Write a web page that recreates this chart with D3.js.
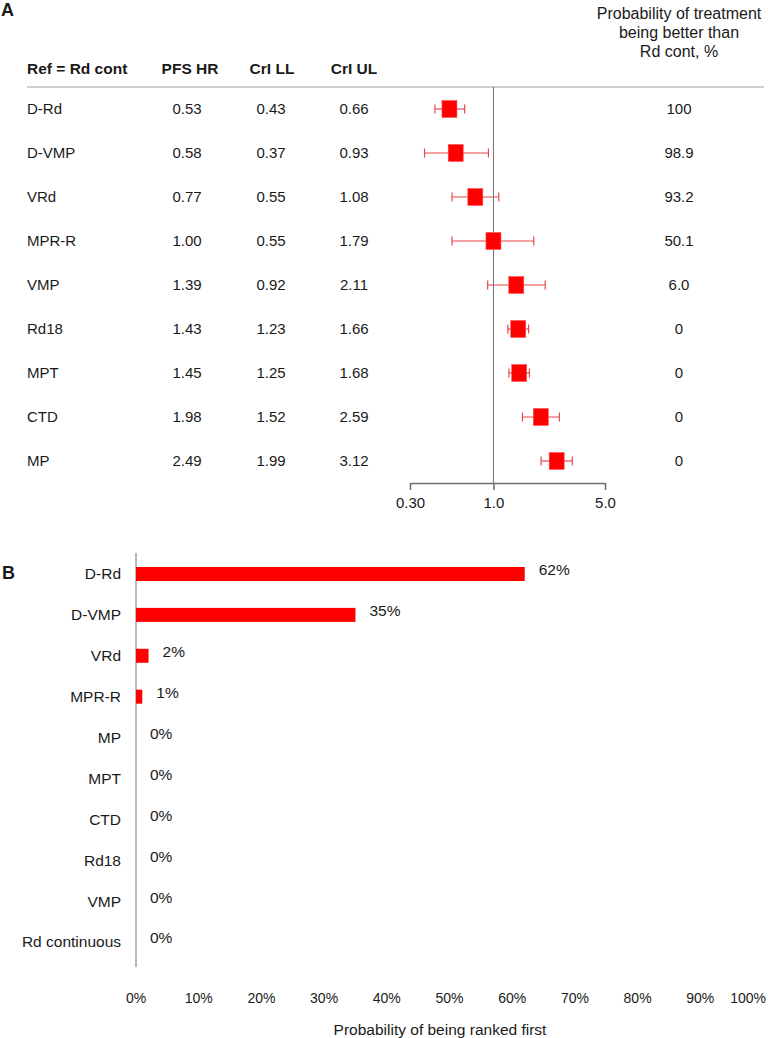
<!DOCTYPE html>
<html>
<head>
<meta charset="utf-8">
<script src="https://cdn.jsdelivr.net/npm/d3@7"></script>
<style>
  body { margin: 0; background: #fff; }
  svg text { font-family: "Liberation Sans", Arial, sans-serif; fill: #1a1a1a; }
</style>
</head>
<body>
<div id="chart"></div>
<script>
// panel A data
const treatments = ["D-Rd", "D-VMP", "VRd", "MPR-R", "VMP", "Rd18", "MPT", "CTD", "MP"]
const hr = [0.53, 0.58, 0.77, 1.00, 1.39, 1.43, 1.45, 1.98, 2.49]
const crl_ll = [0.43, 0.37, 0.55, 0.55, 0.92, 1.23, 1.25, 1.52, 1.99]
const crl_ul = [0.66, 0.93, 1.08, 1.79, 2.11, 1.66, 1.68, 2.59, 3.12]
const prob_better = ["100", "98.9", "93.2", "50.1", "6.0", "0", "0", "0", "0"]
const hr_ticks = [0.30, 1.0, 5.0]
const hr_tick_labels = ["0.30", "1.0", "5.0"]

// panel B data
const rank_categories = ["D-Rd", "D-VMP", "VRd", "MPR-R", "MP", "MPT", "CTD", "Rd18", "VMP", "Rd continuous"]
const rank_first = [62, 35, 2, 1, 0, 0, 0, 0, 0, 0]
const pct_ticks = [0, 10, 20, 30, 40, 50, 60, 70, 80, 90, 100]

const W = 768, H = 1038
const red = "#ff0000", err_red = "#e8474b", grey = "#8a8a8a"
const fs = "15px"

let svg = d3.select("#chart").append("svg")
    .attr("width", W)
    .attr("height", H)

// ---------- Panel A ----------
svg.append("text").text("A")
    .attr("x", 1).attr("y", 16)
    .style("font-size", "18px").style("font-weight", "bold")

const col = {name: 27, hr: 187, ll: 271, ul: 354, prob: 679}

const header_y = 74
svg.append("text").text("Ref = Rd cont")
    .attr("x", col.name).attr("y", header_y)
    .style("font-size", "15.5px").style("font-weight", "bold")
const heads = [["PFS HR", col.hr + 3], ["CrI LL", col.ll + 1], ["CrI UL", col.ul]]
heads.forEach(h => {
    svg.append("text").text(h[0])
        .attr("x", h[1]).attr("y", header_y)
        .attr("text-anchor", "middle")
        .style("font-size", "15.5px").style("font-weight", "bold")
})
const prob_head = ["Probability of treatment", "being better than", "Rd cont, %"]
prob_head.forEach((t, i) => {
    svg.append("text").text(t)
        .attr("x", col.prob).attr("y", 19 + i * 19)
        .attr("text-anchor", "middle")
        .style("font-size", "16px")
})

svg.append("line")
    .attr("x1", col.name).attr("x2", 764)
    .attr("y1", 87).attr("y2", 87)
    .attr("stroke", "#a0a0a0").attr("stroke-width", 1.2)

const yA = d3.scalePoint().domain(treatments).range([109, 461])
const xA = d3.scaleLog().domain([0.3, 5]).range([410, 605])
const axisA_y = 483

// reference line at HR = 1
svg.append("line")
    .attr("x1", xA(1)).attr("x2", xA(1))
    .attr("y1", 87).attr("y2", axisA_y)
    .attr("stroke", "#707070").attr("stroke-width", 1)

let rowsA = svg.append("g")
treatments.forEach((t, i) => {
    const y = yA(t)
    rowsA.append("text").text(t).attr("x", col.name).attr("y", y).attr("dy", "0.35em").style("font-size", fs)
    rowsA.append("text").text(hr[i].toFixed(2)).attr("x", col.hr).attr("y", y).attr("dy", "0.35em")
        .attr("text-anchor", "middle").style("font-size", fs)
    rowsA.append("text").text(crl_ll[i].toFixed(2)).attr("x", col.ll).attr("y", y).attr("dy", "0.35em")
        .attr("text-anchor", "middle").style("font-size", fs)
    rowsA.append("text").text(crl_ul[i].toFixed(2)).attr("x", col.ul).attr("y", y).attr("dy", "0.35em")
        .attr("text-anchor", "middle").style("font-size", fs)
    rowsA.append("text").text(prob_better[i]).attr("x", col.prob).attr("y", y).attr("dy", "0.35em")
        .attr("text-anchor", "middle").style("font-size", fs)

    // error bar
    rowsA.append("line")
        .attr("x1", xA(crl_ll[i])).attr("x2", xA(crl_ul[i]))
        .attr("y1", y).attr("y2", y)
        .attr("stroke", err_red).attr("stroke-width", 1.2)
    ;[crl_ll[i], crl_ul[i]].forEach(v => {
        rowsA.append("line")
            .attr("x1", xA(v)).attr("x2", xA(v))
            .attr("y1", y - 4.5).attr("y2", y + 4.5)
            .attr("stroke", err_red).attr("stroke-width", 1.2)
    })
    // point estimate square
    rowsA.append("rect")
        .attr("x", xA(hr[i]) - 7.5).attr("y", y - 8.5)
        .attr("width", 15).attr("height", 17)
        .attr("fill", red).attr("stroke", "#ff5050").attr("stroke-width", 0.6)
})

svg.append("g")
    .attr("transform", "translate(0," + axisA_y + ")")
    .call(d3.axisBottom(xA)
        .tickValues(hr_ticks)
        .tickFormat((d, i) => hr_tick_labels[i])
        .tickSizeInner(7)
        .tickSizeOuter(0)
        .tickPadding(7))
    .call(g => {
        g.select(".domain").attr("stroke", "#707070").attr("stroke-width", 1.6)
        g.selectAll(".tick line").attr("stroke", "#707070").attr("stroke-width", 1.6)
        g.selectAll(".tick text").style("font-size", fs)
            .style("font-family", "'Liberation Sans', Arial, sans-serif").attr("fill", "#1a1a1a")
    })

// ---------- Panel B ----------
svg.append("text").text("B")
    .attr("x", 2).attr("y", 579)
    .style("font-size", "18px").style("font-weight", "bold")

const yB = d3.scalePoint().domain(rank_categories).range([574, 942])
const xB = d3.scaleLinear().domain([0, 100]).range([136, 763])
const bar_h = 14

svg.append("line")
    .attr("x1", xB(0)).attr("x2", xB(0))
    .attr("y1", 553).attr("y2", 967)
    .attr("stroke", grey).attr("stroke-width", 1.2)

rank_categories.forEach((c, i) => {
    const y = yB(c)
    svg.append("text").text(c)
        .attr("x", 121).attr("y", y).attr("dy", "0.35em")
        .attr("text-anchor", "end").style("font-size", "15.5px")
    if (rank_first[i] > 0) {
        svg.append("rect")
            .attr("x", xB(0)).attr("y", y - bar_h / 2)
            .attr("width", xB(rank_first[i]) - xB(0)).attr("height", bar_h)
            .attr("fill", red)
    }
    svg.append("text").text(rank_first[i] + "%")
        .attr("x", xB(rank_first[i]) + 14).attr("y", y - 4).attr("dy", "0.35em")
        .style("font-size", "15.5px")
})

pct_ticks.forEach((t, i) => {
    const last = i === pct_ticks.length - 1
    svg.append("text").text(t + "%")
        .attr("x", last ? 766 : xB(t)).attr("y", 998).attr("dy", "0.35em")
        .attr("text-anchor", last ? "end" : "middle")
        .style("font-size", "14px")
})

svg.append("text").text("Probability of being ranked first")
    .attr("x", 440).attr("y", 1030).attr("dy", "0.35em")
    .attr("text-anchor", "middle").style("font-size", "15.5px")
</script>
</body>
</html>
